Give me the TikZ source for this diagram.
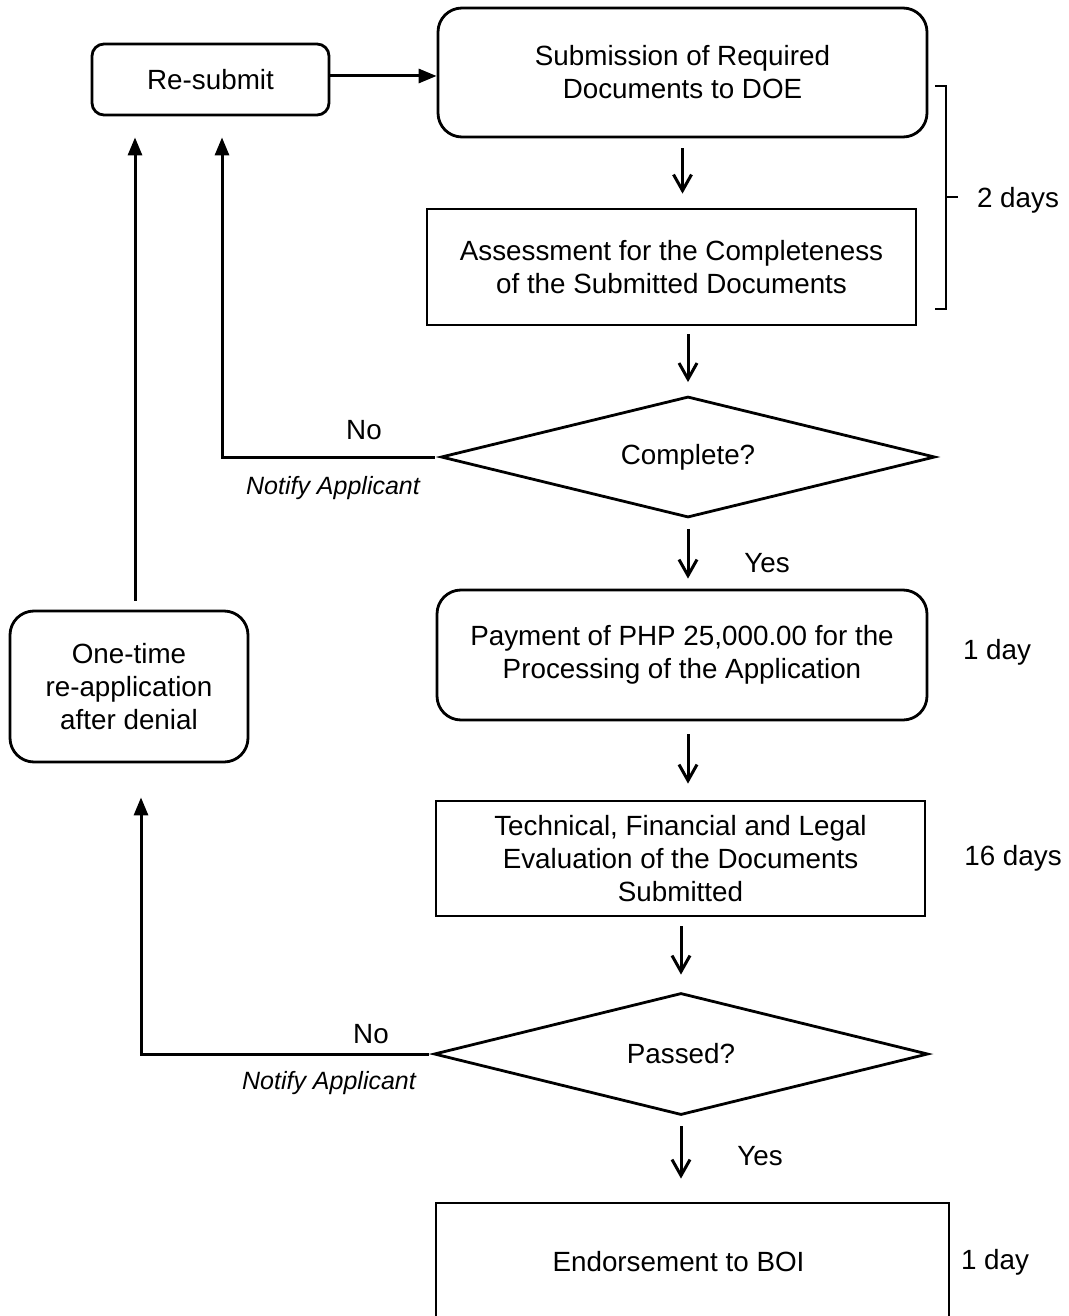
\documentclass[tikz,border=0pt]{standalone}
\usepackage{fontspec}
\setmainfont{Liberation Sans}
\usetikzlibrary{shapes.geometric,arrows.meta,calc}
\begin{document}
\begin{tikzpicture}[x=0.5pt,y=-0.5pt,
  every node/.style={font=\fontsize{13.9}{16.5}\selectfont},
  rbox/.style={draw, line width=1.4pt, rounded corners=12pt, align=center, inner sep=0pt},
  sbox/.style={draw, line width=1.4pt, rectangle, align=center, inner sep=0pt},
  dia/.style={draw, line width=1.4pt, diamond, aspect=4.08, inner sep=0pt, align=center},
  darr/.style={line width=1.5pt, -{Straight Barb[length=8pt,width=9pt,line width=1.5pt]}},
  uarr/.style={line width=1.5pt, -{Triangle[length=9pt,width=7pt]}},
  lbl/.style={inner sep=0pt},
  note/.style={inner sep=0pt, font=\fontsize{12.5}{15}\selectfont\itshape}
]
\useasboundingbox (0,0) rectangle (1069,1316);
\clip (0,0) rectangle (1069,1316);

% nodes
\node[rbox, rounded corners=6pt, minimum width=118.5pt, minimum height=35.5pt] (resub) at (210.5,79.5) {Re-submit};
\node[rbox, minimum width=244.5pt, minimum height=64.5pt] (sub) at (682.5,72.5) {Submission of Required\\Documents to DOE};
\node[sbox, minimum width=244.5pt, minimum height=58pt] (assess) at (671.5,267) {Assessment for the Completeness\\of the Submitted Documents};
\node[dia, minimum width=247pt, minimum height=60.5pt] (comp) at (688,457) {Complete?};
\node[rbox, minimum width=245pt, minimum height=65pt] (pay) at (682,655) {Payment of PHP 25,000.00 for the\\Processing of the Application};
\node[sbox, minimum width=244.5pt, minimum height=57.5pt] (tech) at (680.5,858.5) {Technical, Financial and Legal\\Evaluation of the Documents\\Submitted};
\node[dia, minimum width=247pt, minimum height=61pt] (pass) at (681,1054) {Passed?};
\node[sbox, minimum width=256.5pt, minimum height=59pt] (endo) at (692.5,1262) {Endorsement to BOI\hspace*{14pt}};
\node[rbox, minimum width=119pt, minimum height=75.5pt] (once) at (129,686.5) {One-time\\re-application\\after denial};

% labels
\node[lbl] (no1) at (364,430) {No};
\node[note] (na1) at (333,488) {Notify Applicant};
\node[lbl] (no2) at (371,1034) {No};
\node[note] (na2) at (329,1083) {Notify Applicant};
\node[lbl] (yes1) at (767,563) {Yes};
\node[lbl] (yes2) at (760,1156) {Yes};
\node[lbl] (d2) at (1018,200) {2 days};
\node[lbl] (d1a) at (997,652) {1 day};
\node[lbl] (d16) at (1013,858) {16 days};
\node[lbl] (d1b) at (995,1262) {1 day};

% bracket
\draw[line width=1.1pt] (935,86) -- (946,86) -- (946,309) -- (935,309);
\draw[line width=1.1pt] (946,197) -- (958,197);

% connectors
\draw[uarr] (resub.east |- 0,76) -- (sub.west |- 0,76);
\draw[darr, shorten <=5pt, shorten >=7pt] (sub.south) -- (sub.south |- assess.north);
\draw[darr, shorten <=4pt, shorten >=6.5pt] (assess.south -| comp.north) -- (comp.north);
\draw[darr, shorten <=5pt, shorten >=5pt] (comp.south) -- (comp.south |- pay.north);
\draw[darr, shorten <=6.5pt, shorten >=8pt] ([xshift=3pt]pay.south) -- ([xshift=3pt]pay.south |- tech.north);
\draw[darr, shorten <=4.5pt, shorten >=8.5pt] (tech.south -| pass.north) -- (pass.north);
\draw[darr, shorten <=5pt, shorten >=11.5pt] (pass.south) -- (pass.south |- endo.north);

\draw[uarr, shorten <=2.5pt, shorten >=10.5pt] (comp.west) -| ([xshift=5.75pt]resub.south);
\draw[uarr, shorten <=4.5pt, shorten >=10.5pt] ([xshift=3pt]once.north) -- ([xshift=3pt]once.north |- resub.south);
\draw[uarr, shorten <=2pt, shorten >=17pt] (pass.west) -| ([xshift=6pt]once.south);
\end{tikzpicture}
\end{document}
